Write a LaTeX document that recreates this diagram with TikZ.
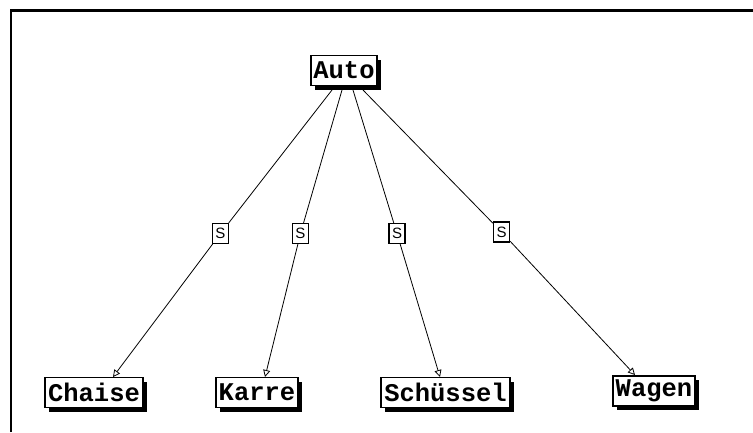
\documentclass[tikz,border=0pt]{standalone}
\usepackage{fontspec}
\newfontfamily\pixfont{Liberation Mono}
\newfontfamily\lblfont{Liberation Sans}
\usetikzlibrary{arrows.meta,shadows}
\begin{document}
\begin{tikzpicture}[x=1pt,y=-1pt,
  classbox/.style={draw=black,fill=white,line width=1.4pt,inner sep=0pt,
    minimum height=30pt,font=\pixfont\bfseries\fontsize{25.5}{25.5}\selectfont,
    general shadow={fill=black,shadow xshift=4pt,shadow yshift=-4pt}},
  slabel/.style={draw=black,fill=white,line width=1.2pt,inner sep=0pt,
    minimum width=16pt,minimum height=20pt,font=\lblfont\fontsize{15}{15}\selectfont},
  edge/.style={draw=black,line width=0.8pt,-{Triangle[open,length=7pt,width=7pt]}}]
\useasboundingbox (0,0) rectangle (753,432);
\fill[white] (0,0) rectangle (753,432);
\draw[line width=2.8pt] (11,432) -- (11,10.6) -- (753,10.6);
% classes
\node[classbox,minimum width=66pt] (auto) at (344,70.5) {Auto};
\node[classbox,minimum width=98pt] (chaise) at (94,392.5) {Chaise};
\node[classbox,minimum width=82pt] (karre) at (257,392.5) {Karre};
\node[classbox,minimum width=129pt] (schuessel) at (445.5,392.5) {Schüssel};
\node[classbox,minimum width=82pt] (wagen) at (654,391) {Wagen};
% start and end points
\coordinate (a1) at (332,90);
\coordinate (a2) at (342,90);
\coordinate (a3) at (353,90);
\coordinate (a4) at (363,90);
\coordinate (t1) at (113,377);
\coordinate (t2) at (265,377);
\coordinate (t3) at (440,377);
\coordinate (t4) at (635,375);
% labels
\node[slabel] (s1) at (220.5,233.5) {S};
\node[slabel] (s2) at (300.5,233.5) {S};
\node[slabel] (s3) at (397,233.5) {S};
\node[slabel] (s4) at (501.5,232) {S};
% edges
\draw[line width=0.8pt] (a1) -- (s1);
\draw[edge] (s1) -- (t1);
\draw[line width=0.8pt] (a2) -- (s2);
\draw[edge] (s2) -- (t2);
\draw[line width=0.8pt] (a3) -- (s3);
\draw[edge] (s3) -- (t3);
\draw[line width=0.8pt] (a4) -- (s4);
\draw[edge] (s4) -- (t4);
\end{tikzpicture}
\end{document}
